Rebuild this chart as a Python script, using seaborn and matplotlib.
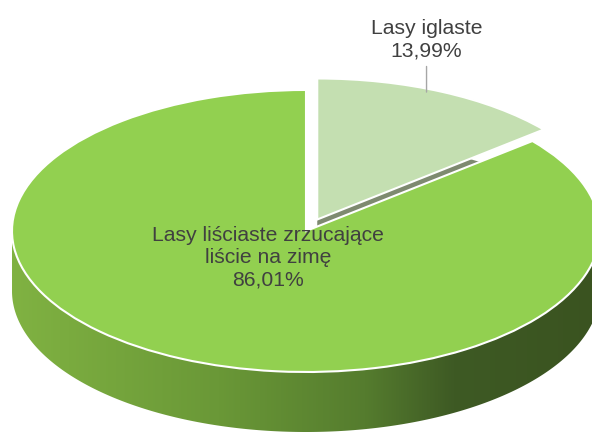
import numpy as np
import matplotlib
matplotlib.use("Agg")
import matplotlib.pyplot as plt
import seaborn as sns
from matplotlib.patches import Polygon
from matplotlib.colors import LinearSegmentedColormap

labels = ["Lasy iglaste", "Lasy liściaste zrzucające\nliście na zimę"]
values = [13.99, 86.01]
top_colors = ["#c4dfb1", "#92d050"]
side_color_small = "#7e8a70"
wall_colors = ["#80b242", "#6a9837", "#557c2e", "#3e5a24", "#3a5320"]

sns.set_theme(style="white")
plt.rcParams['font.family'] = ['Liberation Sans', 'DejaVu Sans']

fig = plt.figure(figsize=(5.92, 4.32), dpi=100)
ax = fig.add_axes([0, 0, 1, 1])
depth = 0.4255
explode = [0.09, 0]

# side of the exploded small slice
side_w, _ = ax.pie(values, explode=explode, startangle=90, counterclock=False,
                   center=(0, -depth), colors=[side_color_small, "#ffffff"],
                   wedgeprops=dict(linewidth=0))
side_w[0].set_zorder(1)
side_w[1].set_visible(False)

# top faces
top_w, _ = ax.pie(values, explode=explode, startangle=90, counterclock=False,
                  colors=top_colors,
                  wedgeprops=dict(edgecolor="white", linewidth=1.5))
top_w[0].set_zorder(2)
top_w[1].set_zorder(4)

# front wall of the big slice
big = top_w[1]
lo = max(big.theta1, -180)
hi = min(big.theta2, 0)
th = np.radians(np.linspace(lo, hi, 300))
cx, cy = big.center
r = big.r
top = np.c_[cx + r * np.cos(th), cy + r * np.sin(th)]
bot = top - np.array([0, depth])
poly = Polygon(np.vstack([top, bot[::-1]]), closed=True, facecolor="none",
               edgecolor="none")
ax.add_patch(poly)
cmap = LinearSegmentedColormap.from_list(
    "wall", list(zip([0, 0.35, 0.6, 0.75, 1.0], wall_colors)))
grad = np.linspace(0, 1, 256).reshape(1, -1)
im = ax.imshow(grad, cmap=cmap, extent=(cx - r, cx + r, cy - r - depth, cy),
               aspect="auto", origin="lower", zorder=3)
im.set_clip_path(poly)

def fmt(v):
    return f"{v:.2f}".replace(".", ",") + "%"

ax.text(-0.129, -0.19, f"{labels[1]}\n{fmt(values[1])}", ha="center",
        va="center", fontsize=15.2, color="#404040", linespacing=1.2,
        zorder=6)
ax.annotate(f"{labels[0]}\n{fmt(values[0])}", xy=(0.41, 0.985),
            xytext=(0.41, 1.355), ha="center", va="center", fontsize=15.2,
            color="#404040", linespacing=1.2, zorder=6,
            arrowprops=dict(arrowstyle="-", color="#a6a6a6", lw=1,
                            shrinkA=2, shrinkB=0))

ax.set_xlim(-1.0408, 0.9728)
ax.set_ylim(-1.4255, 1.638)
ax.set_aspect("auto")
ax.axis("off")
fig.savefig("out.png", dpi=100)
